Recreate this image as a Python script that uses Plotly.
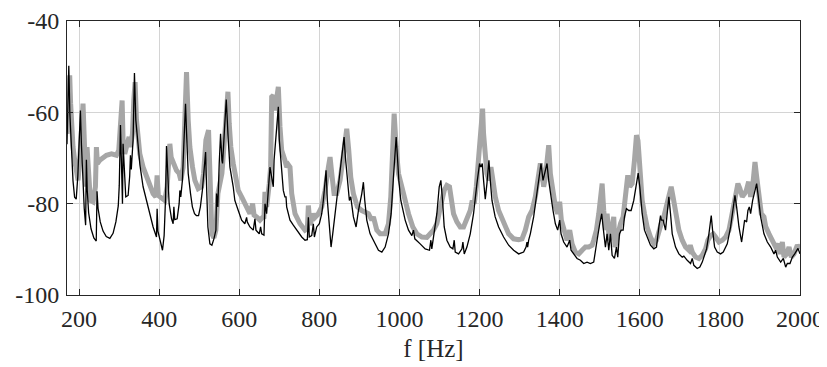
import plotly.graph_objects as go

# Black (thin) spectrum: frequency [Hz], level [dB]
black_f = [170, 172, 174.5, 177, 181, 185, 189, 193, 197, 200.5, 203.5, 206, 209, 213, 216.5, 218.4, 220.5, 224, 230, 237,
           243, 245, 247.5, 253, 260, 268, 277, 285, 292, 298, 300.5, 303.5, 306.5, 308.5, 310, 313, 316.7, 322.6, 326.5, 328.4,
           330.5, 335, 338.4, 341.8, 347.6, 352, 360, 372.6, 385, 393.4, 395, 397, 404.3, 408.4, 412.5, 416, 418.4, 421, 425, 431,
           435, 436.8, 439, 445, 450, 451.8, 454, 458, 462, 465.9, 468.5, 472.6, 478.4, 483, 488.4, 493, 498.4, 503, 508, 511.5,
           516, 518.5, 521.75, 526.75, 531.75, 536.75, 541.75, 543.4, 546.5, 550, 553.4, 556.75, 558.4, 563, 567.6, 572.6, 576.75, 585, 589, 597.6,
           606, 614, 618.4, 620, 626.7, 635, 639.2, 641.75, 650, 653.4, 656, 661.75, 664.3, 668.4, 676.75, 681, 685, 687, 691.75, 695,
           697.6, 700, 703.4, 706.75, 710, 714, 716.75, 718.4, 726.75, 735, 743.4, 756, 764.25, 770, 772.6, 775, 781, 785, 787.6, 793.4,
           800, 806, 810, 814.25, 816.75, 820, 824.25, 829.25, 833.4, 839.25, 847.6, 853.4, 858.4, 861.75, 865, 870, 875, 878.4, 881, 885,
           891.75, 897.6, 906, 910, 913.4, 918.4, 926.75, 935, 939.25, 947.6, 956, 964.25, 972.6, 979.25, 985, 989.25, 991.75, 995, 998.4, 1003.4,
           1008.4, 1014.25, 1022.6, 1031, 1035, 1038.4, 1051.75, 1064.25, 1075, 1078.4, 1080.75, 1086.75, 1093.4, 1099.25, 1103.4, 1107.6, 1111.75, 1118.4, 1126.75, 1133.4,
           1136.75, 1139.25, 1147.6, 1156, 1158.4, 1161.75, 1168.4, 1176.75, 1185, 1193.4, 1200, 1203.4, 1206.75, 1210, 1214.25, 1218.4, 1223.4, 1226.75, 1231, 1239,
           1247.6, 1260, 1272.6, 1285, 1297.6, 1310, 1316, 1318.4, 1320, 1322.6, 1326.75, 1335, 1343.4, 1350, 1353.4, 1358.4, 1364, 1368.4, 1372.6, 1376.75,
           1383.4, 1389.25, 1395, 1400, 1403.4, 1410, 1418.4, 1425, 1428.4, 1435, 1443.4, 1451.75, 1460, 1468.4, 1476.75, 1485, 1487.6, 1493.4, 1500, 1505,
           1508.4, 1514.25, 1518.4, 1522.6, 1526.75, 1531, 1536.75, 1541.75, 1545, 1549.25, 1553.4, 1558.4, 1561.75, 1566.75, 1572.6, 1578.4, 1585, 1591, 1596, 1600,
           1606, 1611.75, 1618.4, 1626.75, 1635, 1641.75, 1647.6, 1651.75, 1654, 1658.4, 1664.25, 1668.4, 1672.6, 1676.75, 1681, 1689.25, 1697.6, 1706, 1710, 1718.4,
           1726.75, 1730.9, 1735, 1743.4, 1750, 1756, 1760, 1766.75, 1772.6, 1778.4, 1781.75, 1786.75, 1793.4, 1801.75, 1808.4, 1818.4, 1826.75, 1833.4, 1837.6, 1841.75,
           1847.6, 1854.25, 1858.4, 1861.75, 1866.75, 1870, 1873.4, 1876.75, 1881.75, 1886.75, 1891.75, 1896, 1901.75, 1910, 1918.4, 1926.75, 1935, 1939.25, 1943.4, 1951.75,
           1958.4, 1964.25, 1968.4, 1975, 1981, 1986.75, 1991.75, 1995, 2000]
black_db = [-67, -57, -49.8, -60, -68.5, -75, -78.6, -79, -74, -66, -59.6, -67, -75, -81, -84.7, -70.4, -77, -82, -85.5, -87.5,
            -88.2, -77.3, -81, -84, -86, -87.2, -87.6, -86.5, -84, -80.5, -76, -62.8, -73, -80, -66.9, -73, -78.5, -78.2, -74, -69.4,
            -72.5, -66, -51.4, -61.7, -67.6, -71.5, -76.3, -80.7, -85.1, -87.3, -81.1, -86, -89.1, -90.2, -87, -79, -67.4, -74, -80, -83.3,
            -84.4, -80.7, -83.5, -83.3, -80, -77.1, -78.5, -75, -67, -58.1, -64.5, -73.4, -77.8, -80.7, -82.2, -82.6, -82.6, -80.7, -77.1, -73.4,
            -68.7, -76.3, -85.1, -88.8, -89.1, -87.7, -85.8, -77.8, -80.7, -71.2, -64.7, -70.5, -71.2, -64, -57.2, -66.1, -72, -76.3, -79.3, -81.5,
            -83.6, -84.4, -83, -84, -85.1, -85.8, -83.3, -85.8, -86.6, -85.1, -86.6, -86.9, -80, -82.2, -72, -74.2, -76.3, -70.5, -66.1, -61.7,
            -58.8, -66, -69.8, -72.7, -77.1, -78.5, -78.5, -80.7, -83.6, -84.7, -85.8, -87.3, -88, -87.9, -83, -87.3, -87, -84.4, -87.3, -85.1,
            -84.4, -82.2, -79.3, -74.9, -72.7, -79.3, -85.1, -89.5, -86.6, -82.2, -76.3, -72, -67.6, -65.4, -69.8, -74.9, -79.3, -78.5, -80.7, -82.9,
            -85.1, -81.5, -77.8, -75.3, -79.3, -83.6, -86.6, -88, -88.8, -90.2, -90.6, -89.5, -86.6, -82.2, -74.2, -69.1, -65.4, -69.8, -74.9, -79.3,
            -81.5, -83.6, -85.8, -87, -85.8, -87.7, -88.8, -89.9, -90.2, -88, -89.9, -86.6, -82.2, -76.3, -74.9, -79.3, -85.1, -88, -89.5, -89.9,
            -88, -90.6, -91, -89.9, -88.4, -91, -89.5, -86.6, -82.2, -75.6, -71.2, -72, -71.2, -74.9, -79, -75.6, -70.5, -74.9, -79.3, -82.9,
            -85.1, -87.3, -89.1, -90.2, -91, -90.6, -89.5, -88.4, -89.5, -88, -86.6, -82.9, -77.8, -72.7, -71.2, -74.9, -72.7, -71.2, -74.9, -77.8,
            -81.5, -84.4, -85.8, -83.6, -86.6, -88.4, -89.5, -88, -90.2, -91, -92, -92.4, -93.1, -92.8, -93.1, -92.8, -91, -88, -84.4, -82.2,
            -85.1, -89.5, -86.6, -90.2, -86.6, -91.3, -92, -89.5, -91.7, -86.6, -85.8, -85.8, -82.9, -81.1, -81.5, -81.5, -79.3, -76.3, -73.3, -76.3,
            -82.2, -85.8, -87.3, -89.1, -89.9, -89.5, -85.1, -82.6, -83.6, -83.6, -85.8, -82.2, -78.5, -82.2, -86.6, -89.5, -91, -91.7, -91.5, -92.4,
            -93.1, -92, -93.5, -94.2, -93.9, -92.8, -91.7, -89.9, -86.6, -82.6, -85.8, -89.5, -90.6, -91, -90.6, -88.8, -85.1, -80.7, -78.2, -80.7,
            -85.1, -88.4, -86, -83.6, -84, -81.5, -80.7, -82.2, -79.3, -77.4, -75.6, -78.5, -82.9, -86.6, -88.4, -89.5, -91, -90.2, -91.7, -92.8,
            -92, -93.9, -93.1, -93.1, -91.7, -91, -90.2, -89.8, -91]

# Gray (thick) spectrum: frequency [Hz], level [dB]
gray_f = [170, 172.6, 174.5, 176.75, 179, 181, 185, 189.25, 193.4, 197.6, 201.75, 206.75, 210, 213, 216.75, 220, 223.5, 228.4, 235, 241,
          243.4, 246, 251.75, 260, 268.4, 281, 293.4, 299.25, 303.4, 307.6, 310, 314.25, 318.4, 325, 328.4, 333.4, 336.75, 340, 343.4, 347.6,
          351.75, 360, 368.4, 376.75, 385, 391.75, 395, 398, 406, 414.25, 420, 426.75, 430, 435, 443.4, 450, 454.25, 460, 465, 468.4,
          472.6, 476.75, 483.4, 489.25, 497.6, 506, 511, 516.75, 523.4, 526.75, 531.75, 536.75, 541.75, 546.75, 551.75, 556.75, 561.75, 566.75, 571.75, 575,
          579, 585, 591.75, 597.6, 606, 614.25, 620, 626.75, 633.4, 637, 643.4, 651.75, 658.4, 661.75, 664.25, 668.4, 675, 678.4, 681, 685,
          689.25, 693.4, 697.6, 701.75, 706, 714, 718.4, 722.6, 726.75, 731, 739.25, 751.75, 764.25, 770, 772.6, 776.75, 785, 789.25, 797.6, 806,
          814.25, 822.6, 826.75, 831, 836.75, 843.4, 851.75, 858.4, 864.25, 868.4, 873.4, 878.4, 885, 895, 906, 914.25, 922.6, 930.9, 935, 943.4,
          951.75, 964.25, 972.6, 978.4, 983.4, 986.75, 991.75, 997.6, 1006, 1014.25, 1022.6, 1033.4, 1043.4, 1056, 1068.4, 1076.75, 1085, 1093.4, 1100, 1106,
          1111.75, 1118.4, 1125, 1129.25, 1135, 1143.4, 1151.75, 1160, 1168.4, 1176.75, 1181.75, 1186.75, 1191.75, 1197.6, 1203.4, 1207.6, 1210, 1214.25, 1218.4, 1223.4,
          1228.4, 1233.4, 1239.25, 1247.6, 1260, 1272.6, 1285, 1297.6, 1306, 1314.25, 1322.6, 1331, 1339.25, 1346, 1351.75, 1356, 1360, 1364, 1370, 1372.6,
          1376.75, 1383.4, 1389.25, 1395, 1400, 1404.25, 1411.75, 1418.4, 1425, 1431, 1439.25, 1447.6, 1456, 1464.25, 1472.6, 1481, 1485, 1491.75, 1497.6, 1503.4,
          1506, 1510, 1514.25, 1518.4, 1524, 1528, 1535, 1538, 1545, 1551.75, 1558.4, 1564.25, 1570, 1575, 1581, 1586.75, 1591.75, 1595.5, 1600, 1606,
          1611.75, 1618.4, 1626.75, 1635, 1641.75, 1647.6, 1653.4, 1660, 1666.75, 1672.6, 1678.4, 1683, 1689.25, 1697.6, 1706, 1714.25, 1722.6, 1726, 1731, 1739.25,
          1747.6, 1756, 1764.25, 1770, 1776.75, 1783.4, 1789.25, 1797.6, 1806, 1814.25, 1822.6, 1831, 1839.25, 1845, 1850, 1855.9, 1861.75, 1866, 1871.75, 1876.75,
          1881.75, 1887.6, 1892, 1897.6, 1903.4, 1910, 1914.25, 1922.6, 1930.9, 1939.25, 1945, 1950, 1955.9, 1960, 1966.75, 1972.6, 1978.4, 1985, 1993.4, 2000]
gray_db = [-64.7, -59.6, -55, -51.9, -58, -63.2, -67.6, -70.5, -73.4, -74.9, -70.5, -61.7, -58.1, -65.5, -76.3, -67.6, -74, -79.3, -79.6, -76.3,
           -67.6, -71.2, -70.5, -69.8, -69.4, -69.1, -69.4, -68.3, -63.2, -57.4, -66.1, -69.1, -67.6, -65.4, -67.6, -64.7, -57.4, -53.4, -61.7, -66.1,
           -69.1, -72, -74.2, -76, -77.8, -78.5, -73.8, -78.2, -78.9, -79.3, -76.3, -66.9, -69.8, -71.2, -72.7, -73.4, -74.9, -72, -61, -51.2,
           -61.7, -67.6, -72, -74.9, -76.7, -76.3, -73.4, -66.1, -63.9, -72, -86.6, -87.5, -85.8, -77.8, -75.6, -73.4, -67.6, -58.8, -55.5, -62.5,
           -67.6, -71.2, -74.9, -77.1, -78.5, -80, -80.7, -82.2, -80, -82.5, -82.9, -83.6, -83, -82.9, -77.4, -80.7, -75.6, -72, -56.6, -56.3,
           -59.6, -56.6, -54.4, -63.2, -68.3, -70.5, -72, -71.5, -72, -77.8, -82.2, -84.4, -85.8, -85.5, -80.4, -84.7, -82.2, -83, -82.2, -80.7,
           -77.1, -72, -69.8, -73.4, -77.8, -77.8, -74.9, -70.5, -64.7, -63.6, -68.3, -74.2, -77.8, -80.7, -81.5, -81.8, -82.2, -83.6, -82.9, -85.8,
           -86.6, -86.6, -84.4, -78.5, -70.5, -60.3, -67.6, -73.4, -76.3, -79.3, -82.2, -85.1, -86.6, -87.3, -87.4, -86.6, -85.8, -84.4, -82.2, -79.3,
           -77.1, -76, -76.3, -79.3, -82.2, -84, -85.1, -85.1, -83.6, -81.5, -79.3, -80, -76.3, -70.5, -64.7, -59.2, -64.7, -70.5, -73.4, -74.9,
           -72, -74.9, -78.5, -81.5, -84.4, -86.6, -87.7, -87.9, -87.7, -85.8, -82.9, -81.5, -78.5, -74.9, -71.2, -73.4, -76.3, -74.5, -67.6, -67.2,
           -73.4, -77.8, -80.7, -82.2, -79.6, -83.6, -86.6, -88, -85.8, -88.8, -90.6, -91, -90.2, -89.5, -89.5, -89.1, -88, -85.8, -82.2, -76.3,
           -75.6, -81.5, -85.8, -82.2, -88, -86.6, -82.9, -89.5, -86.6, -84.4, -82.9, -77.1, -73.8, -76.3, -75.6, -70.5, -65, -66.2, -73.4, -79.3,
           -82.2, -85.1, -87.3, -88.8, -88, -85.8, -84.4, -82.9, -80.7, -78.5, -76.3, -78.5, -82.2, -85.8, -88, -89.5, -90.2, -89.1, -90.6, -91.7,
           -92, -91.3, -89.9, -88, -87, -86.6, -87.3, -88.4, -88, -87.3, -85.8, -82.2, -77.8, -75.6, -76.7, -78.5, -77.8, -77.1, -75.2, -78.5,
           -76.3, -70.9, -74.2, -79.3, -82.2, -82.9, -85, -86.6, -88, -89.5, -88.8, -91, -88.4, -91.7, -91, -89.5, -91.7, -91, -89.1, -89.9]

x_tick_vals = [200, 400, 600, 800, 1000, 1200, 1400, 1600, 1800, 2000]
x_tick_text = ["200", "400", "600", "800", "1000", "1200", "1400", "1600", "1800", "2000"]
y_tick_vals = [-100, -80, -60, -40]
y_tick_text = ["-100", "-80", "-60", "-40"]

FONT = "Liberation Serif"
AXC = "#262626"

fig = go.Figure()
fig.add_trace(go.Scatter(x=gray_f, y=gray_db, mode="lines",
                         line=dict(color="#a6a6a6", width=5), showlegend=False))
fig.add_trace(go.Scatter(x=black_f, y=black_db, mode="lines",
                         line=dict(color="#000000", width=1.3), showlegend=False))

# the page body has an 8px margin, so the figure is 8px smaller and offsets reduced
fig.update_layout(
    width=819, height=359,
    margin=dict(l=59, r=27, t=13, b=72),
    paper_bgcolor="white", plot_bgcolor="white",
    font=dict(family=FONT, size=24, color=AXC),
)
fig.update_xaxes(range=[170, 2000], tickvals=x_tick_vals, ticktext=x_tick_text,
                 showgrid=True, gridcolor="#d4d4d4", gridwidth=1,
                 ticks="inside", ticklen=6, tickcolor=AXC, tickwidth=1,
                 showline=True, linecolor=AXC, linewidth=1, mirror="ticks",
                 zeroline=False, automargin=False, ticklabelstandoff=2,
                 ticklabeloverflow="allow",
                 title=dict(text="f [Hz]", font=dict(family=FONT, size=25, color=AXC), standoff=8),
                 tickfont=dict(family=FONT, size=24, color=AXC))
fig.update_yaxes(range=[-100, -40], tickvals=y_tick_vals, ticktext=y_tick_text,
                 showgrid=True, gridcolor="#d4d4d4", gridwidth=1,
                 ticks="inside", ticklen=6, tickcolor=AXC, tickwidth=1,
                 showline=True, linecolor=AXC, linewidth=1, mirror="ticks",
                 zeroline=False, automargin=False, ticklabelstandoff=2,
                 ticklabeloverflow="allow",
                 tickfont=dict(family=FONT, size=24, color=AXC))

fig.write_html("out.html")
